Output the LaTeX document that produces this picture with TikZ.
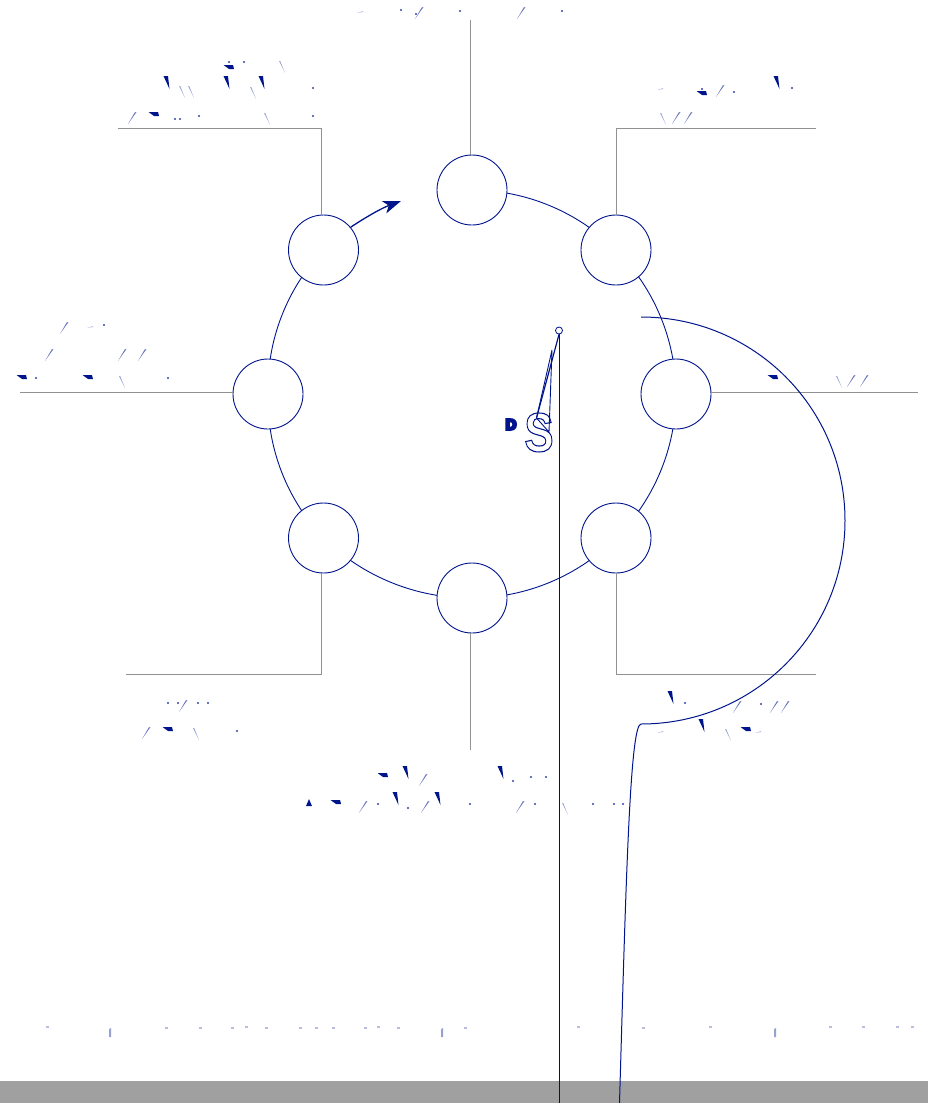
\documentclass[tikz,border=0pt]{standalone}
\usepackage{fontspec}
\setmainfont{Liberation Sans}
\usetikzlibrary{arrows.meta,backgrounds}
\definecolor{ink}{RGB}{0,20,140}
\definecolor{rule}{RGB}{145,145,145}
\definecolor{band}{RGB}{160,160,160}
\newcommand{\FragSlash}[2]{\fill[ink!60] (#1+4.5,#2-6)--(#1+2.7,#2-5.5)--(#1-4,#2+6)--cycle;}
\newcommand{\FragBack}[2]{\fill[ink!40] (#1-3,#2-6)--(#1-1.8,#2-6)--(#1+3,#2+6)--cycle;}
\newcommand{\FragWedge}[2]{\fill[ink] (#1-3.5,#2-7)--(#1+1,#2-7)--(#1+2.5,#2+6)--cycle;}
\newcommand{\FragBar}[2]{\fill[ink] (#1-5.5,#2-2)--(#1+4,#2-2)--(#1+5,#2+2)--(#1,#2+2)--cycle;}
\newcommand{\FragDot}[2]{\fill[ink!80] (#1,#2) circle (1.2);}
\newcommand{\FragFaint}[2]{\fill[ink!30] (#1-3,#2+1)--(#1+3,#2-1)--(#1+3,#2)--cycle;}
\newcommand{\FragStem}[2]{\fill[ink!40] (#1-1,#2)--(#1+1,#2-1)--(#1+1,#2+8)--(#1-1,#2+8)--cycle;}
\newcommand{\FragTick}[2]{\fill[ink!28] (#1-1.5,#2-.7) rectangle (#1+1.5,#2+.7);}
\tikzset{
  ringnode/.style={circle,draw=ink,fill=white,minimum size=70pt,inner sep=0pt,line width=.9pt},
  ringarc/.style={draw=ink,line width=.9pt,looseness=.885},
  leader/.style={draw=rule,line width=.95pt},
  curve/.style={draw=ink,line width=1pt},
  outlined/.style={inner sep=0pt,text=white}
}
\begin{document}
\begin{tikzpicture}[x=1pt,y=-1pt]
\useasboundingbox (0,0) rectangle (928,1103);
\fill[band] (0,1081) rectangle (928,1103);
% ring nodes
\node[ringnode] (top) at (472,190) {};
\node[ringnode] (tr) at (616,250) {};
\node[ringnode] (rt) at (676,394) {};
\node[ringnode] (br) at (616,538) {};
\node[ringnode] (bot) at (472,598) {};
\node[ringnode] (bl) at (323.5,538) {};
\node[ringnode] (lf) at (268,394) {};
\node[ringnode] (tl) at (323.5,250) {};
\begin{scope}[on background layer]
\draw[ringarc] (top.center) to[bend left=22.5] (tr.center);
\draw[ringarc] (tr.center) to[bend left=22.5] (rt.center);
\draw[ringarc] (rt.center) to[bend left=22.5] (br.center);
\draw[ringarc] (br.center) to[bend left=22.5] (bot.center);
\draw[ringarc] (bot.center) to[bend left=22.5] (bl.center);
\draw[ringarc] (bl.center) to[bend left=22.5] (lf.center);
\draw[ringarc] (lf.center) to[bend left=22.5] (tl.center);
\end{scope}
% leaders
\coordinate (ltop) at (470.5,20);
\coordinate (ltl) at (118,128);
\coordinate (ltr) at (816,128);
\coordinate (llf) at (20,392.5);
\coordinate (lrt) at (918,392.5);
\coordinate (lbl) at (126,674);
\coordinate (lbr) at (816,674);
\coordinate (lbot) at (470.5,750);
\draw[leader] (ltop) -- (top.north -| ltop);
\draw[leader] (ltl) -- (321.5,128) -- (321.5,215.5);
\draw[leader] (ltr) -- (616.5,128) -- (616.5,215);
\draw[leader] (llf) -- (233,392.5);
\draw[leader] (lrt) -- (711,392.5);
\draw[leader] (lbl) -- (321.5,674) -- (321.5,572.5);
\draw[leader] (lbr) -- (616.5,674) -- (616.5,572.5);
\draw[leader] (lbot) -- (bot.south -| lbot);
% rotation arrow
\coordinate (arrowend) at (401,201);
\draw[curve,line width=1.3pt,-{Stealth[length=18pt,width=13pt,inset=5pt]}] (tl.40) .. controls (366,217) and (382,208) .. (arrowend);
% big curve
\coordinate (cs) at (641,317);
\coordinate (ce) at (619.5,1103);
\draw[curve] (cs) .. controls (754,317) and (845,408) .. (845,520.5)
  .. controls (845,633) and (754,724) .. (641,724)
  .. controls (630,724) and (626,880) .. (ce);
% pin
\node[circle,draw=ink,fill=white,minimum size=7pt,inner sep=0pt,line width=.8pt] (pin) at (559,330.5) {};
\coordinate (pinend) at (559,1103);
\draw[draw=ink!80!black,line width=1pt] (pin) -- (pinend);
% letters
\node[outlined,font=\fontsize{55}{55}\bfseries,xscale=.8,anchor=center] (S) at (539,432.5)
  {\special{pdf:code q 1 Tr 1.1 w 0 0.08 0.55 RG}S\special{pdf:code Q}};
\node[inner sep=0pt,text=ink,font=\fontsize{15}{15}\bfseries] (D) at (511,424.5)
  {\special{pdf:code q 2 Tr 2.4 w 0 0.08 0.55 RG}D\special{pdf:code Q}};
% spike
\coordinate (sa) at (552,350);
\coordinate (sb) at (536.5,418);
\coordinate (sc) at (549,432);
\draw[curve,line width=1.2pt] (pin.south) -- (sb);
\draw[curve,line width=.9pt] (sa) -- (sb) -- (sc) -- cycle;
% fragments of the captions
\FragDot{229}{62}\FragBar{229}{67}\FragDot{244}{62}\FragBack{282}{67}
\FragWedge{167}{83}\FragBack{182}{92}\FragBack{191}{92}\FragWedge{227}{83}\FragBack{253}{93}\FragWedge{262}{83}\FragDot{313}{88}
\FragSlash{132}{118}\FragBar{154}{114}\FragDot{175}{119}\FragDot{180}{119}\FragDot{199}{116}\FragBack{267}{119}\FragDot{313}{116}
\FragBar{383}{775}\FragWedge{406}{773}\FragSlash{423}{780}\FragWedge{501}{773}\FragDot{513}{781}\FragDot{531}{777}\FragDot{546}{777}
\fill[ink] (306,806)--(309,799)--(312,806)--cycle;
\FragBar{336}{802}\FragSlash{363}{807}\FragDot{378}{804}\FragWedge{396}{799}\FragDot{408}{808}\FragSlash{425}{807}\FragWedge{438}{799}\FragDot{470}{804}\FragSlash{520}{807}\FragDot{535}{804}\FragBack{565}{809}\FragDot{593}{804}\FragDot{614}{804}\FragDot{623}{804}
\FragSlash{64}{328}\FragDot{104}{325}\FragFaint{90}{327}
\FragSlash{49}{355}\FragSlash{122}{355}\FragSlash{142}{355}
\FragBar{22}{377}\FragDot{36}{378}\FragBar{88}{377}\FragBack{122}{382}\FragDot{168}{378}
\FragDot{401}{10}\FragSlash{419}{13}\FragDot{416}{14}\FragDot{460}{11}\FragSlash{521}{13}\FragDot{562}{11}\FragFaint{360}{12}
\FragFaint{660}{89}\FragBar{702}{93}\FragDot{702}{89}\FragSlash{720}{91}\FragDot{734}{92}\FragWedge{777}{83}\FragDot{792}{88}
\FragBack{663}{119}\FragSlash{676}{118}\FragSlash{688}{118}
\FragBar{773}{377}\FragBack{839}{382}\FragSlash{851}{381}\FragSlash{864}{381}
\FragDot{168}{703}\FragDot{178}{703}\FragSlash{183}{706}\FragDot{198}{703}\FragDot{208}{703}
\FragSlash{146}{733}\FragBar{168}{729}\FragBack{196}{734}\FragDot{237}{731}
\FragWedge{671}{698}\FragDot{685}{703}\FragSlash{737}{707}\FragDot{761}{704}\FragSlash{774}{707}\FragSlash{785}{707}
\FragFaint{660}{732}\FragWedge{702}{726}\FragBack{728}{735}\FragBar{746}{729}\FragFaint{758}{732}
% bottom caption fragments
\FragTick{47}{1027}\FragStem{110}{1029}\FragTick{166}{1028}\FragTick{200}{1028}\FragTick{232}{1028}\FragTick{246}{1027}\FragTick{266}{1028}\FragTick{300}{1028}\FragTick{316}{1028}\FragTick{333}{1028}\FragTick{365}{1028}\FragTick{378}{1027}\FragTick{398}{1028}\FragStem{442}{1029}\FragTick{465}{1028}\FragTick{578}{1027}\FragTick{643}{1028}\FragTick{710}{1027}\FragStem{775}{1029}\FragTick{830}{1027}\FragTick{863}{1027}\FragTick{897}{1027}\FragTick{912}{1027}
\end{tikzpicture}
\end{document}
